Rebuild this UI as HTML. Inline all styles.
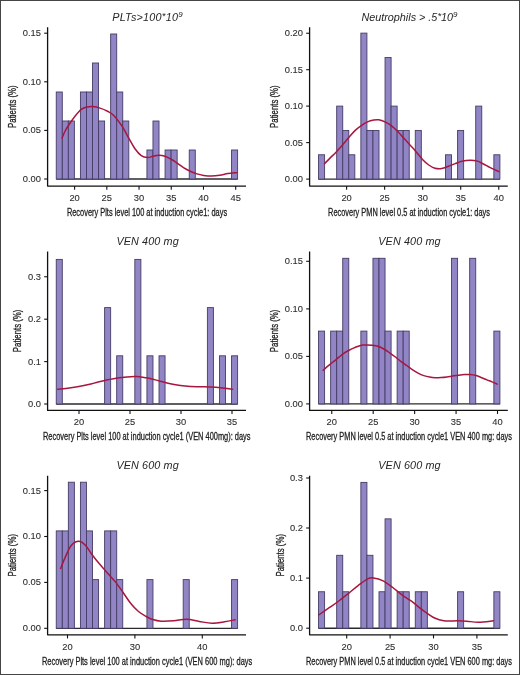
<!DOCTYPE html>
<html><head><meta charset="utf-8"><style>
html,body{margin:0;padding:0;background:#fff;}
body{width:520px;height:675px;overflow:hidden;}
svg{display:block;will-change:transform;}
text{font-family:"Liberation Sans",sans-serif;}
.tk{font-size:9.35px;fill:#2e2e2e;stroke:#2e2e2e;stroke-width:0.1px;}
.xt{font-size:10.8px;fill:#1e1e1e;stroke:#1e1e1e;stroke-width:0.3px;}
.yt{font-size:10.1px;fill:#1e1e1e;stroke:#1e1e1e;stroke-width:0.3px;}
.ti{font-size:10.8px;font-style:italic;fill:#262626;letter-spacing:0.12px;}
</style></head><body>
<svg width="520" height="675" viewBox="0 0 520 675">
<rect x="0" y="0" width="520" height="675" fill="#fff"/>
<g><line x1="56.25" y1="179.00" x2="237.60" y2="179.00" stroke="#2a2a30" stroke-width="1.35"/><rect x="56.25" y="92.00" width="6.045" height="87.00" fill="#9285c6" stroke="#453d65" stroke-width="0.9"/><rect x="62.30" y="121.00" width="6.045" height="58.00" fill="#9285c6" stroke="#453d65" stroke-width="0.9"/><rect x="68.34" y="121.00" width="6.045" height="58.00" fill="#9285c6" stroke="#453d65" stroke-width="0.9"/><rect x="80.43" y="92.00" width="6.045" height="87.00" fill="#9285c6" stroke="#453d65" stroke-width="0.9"/><rect x="86.47" y="92.00" width="6.045" height="87.00" fill="#9285c6" stroke="#453d65" stroke-width="0.9"/><rect x="92.52" y="63.00" width="6.045" height="116.00" fill="#9285c6" stroke="#453d65" stroke-width="0.9"/><rect x="98.56" y="121.00" width="6.045" height="58.00" fill="#9285c6" stroke="#453d65" stroke-width="0.9"/><rect x="110.66" y="34.00" width="6.045" height="145.00" fill="#9285c6" stroke="#453d65" stroke-width="0.9"/><rect x="116.70" y="92.00" width="6.045" height="87.00" fill="#9285c6" stroke="#453d65" stroke-width="0.9"/><rect x="122.75" y="121.00" width="6.045" height="58.00" fill="#9285c6" stroke="#453d65" stroke-width="0.9"/><rect x="146.93" y="150.00" width="6.045" height="29.00" fill="#9285c6" stroke="#453d65" stroke-width="0.9"/><rect x="152.97" y="121.00" width="6.045" height="58.00" fill="#9285c6" stroke="#453d65" stroke-width="0.9"/><rect x="165.06" y="150.00" width="6.045" height="29.00" fill="#9285c6" stroke="#453d65" stroke-width="0.9"/><rect x="171.11" y="150.00" width="6.045" height="29.00" fill="#9285c6" stroke="#453d65" stroke-width="0.9"/><rect x="189.24" y="150.00" width="6.045" height="29.00" fill="#9285c6" stroke="#453d65" stroke-width="0.9"/><rect x="231.56" y="150.00" width="6.045" height="29.00" fill="#9285c6" stroke="#453d65" stroke-width="0.9"/><path d="M62.10,138.10 C62.58,136.96 63.89,133.43 65.00,131.25 C66.11,129.07 67.08,127.50 68.75,125.00 C70.42,122.50 72.92,118.85 75.00,116.25 C77.08,113.65 79.17,110.96 81.25,109.40 C83.33,107.84 85.62,107.37 87.50,106.90 C89.38,106.43 90.42,106.40 92.50,106.60 C94.58,106.80 97.50,107.32 100.00,108.10 C102.50,108.88 105.21,110.02 107.50,111.25 C109.79,112.48 111.25,112.89 113.75,115.50 C116.25,118.11 120.00,123.13 122.50,126.90 C125.00,130.67 126.67,134.46 128.75,138.10 C130.83,141.74 132.92,145.83 135.00,148.75 C137.08,151.67 139.17,154.14 141.25,155.60 C143.33,157.06 145.42,157.43 147.50,157.50 C149.58,157.57 151.88,156.38 153.75,156.00 C155.62,155.62 156.88,155.15 158.75,155.20 C160.62,155.25 162.71,155.50 165.00,156.30 C167.29,157.10 170.55,158.90 172.50,160.00 C174.45,161.10 174.87,161.63 176.70,162.90 C178.53,164.17 181.25,166.22 183.50,167.60 C185.75,168.98 187.97,170.15 190.20,171.20 C192.43,172.25 194.67,173.20 196.90,173.90 C199.13,174.60 201.13,175.03 203.60,175.40 C206.07,175.77 209.00,176.12 211.70,176.10 C214.40,176.08 217.10,175.72 219.80,175.30 C222.50,174.88 225.07,174.03 227.90,173.60 C230.73,173.17 235.32,172.85 236.80,172.70" fill="none" stroke="#a8163f" stroke-width="1.5" stroke-linecap="round" stroke-linejoin="round"/><path d="M47.60,27.20 V186.10 H246.00" fill="none" stroke="#111" stroke-width="1.3" stroke-linejoin="round"/><line x1="44.20" y1="179.00" x2="47.60" y2="179.00" stroke="#111" stroke-width="1.1"/><text x="41.00" y="181.90" text-anchor="end" class="tk">0.00</text><line x1="44.20" y1="130.40" x2="47.60" y2="130.40" stroke="#111" stroke-width="1.1"/><text x="41.00" y="133.30" text-anchor="end" class="tk">0.05</text><line x1="44.20" y1="81.80" x2="47.60" y2="81.80" stroke="#111" stroke-width="1.1"/><text x="41.00" y="84.70" text-anchor="end" class="tk">0.10</text><line x1="44.20" y1="33.20" x2="47.60" y2="33.20" stroke="#111" stroke-width="1.1"/><text x="41.00" y="36.10" text-anchor="end" class="tk">0.15</text><line x1="74.60" y1="186.10" x2="74.60" y2="189.70" stroke="#111" stroke-width="1.1"/><text x="74.60" y="201.10" text-anchor="middle" class="tk">20</text><line x1="106.82" y1="186.10" x2="106.82" y2="189.70" stroke="#111" stroke-width="1.1"/><text x="106.82" y="201.10" text-anchor="middle" class="tk">25</text><line x1="139.04" y1="186.10" x2="139.04" y2="189.70" stroke="#111" stroke-width="1.1"/><text x="139.04" y="201.10" text-anchor="middle" class="tk">30</text><line x1="171.26" y1="186.10" x2="171.26" y2="189.70" stroke="#111" stroke-width="1.1"/><text x="171.26" y="201.10" text-anchor="middle" class="tk">35</text><line x1="203.48" y1="186.10" x2="203.48" y2="189.70" stroke="#111" stroke-width="1.1"/><text x="203.48" y="201.10" text-anchor="middle" class="tk">40</text><line x1="235.70" y1="186.10" x2="235.70" y2="189.70" stroke="#111" stroke-width="1.1"/><text x="235.70" y="201.10" text-anchor="middle" class="tk">45</text><text x="66.90" y="215.70" textLength="160.20" lengthAdjust="spacingAndGlyphs" class="xt">Recovery Plts level 100 at induction cycle1: days</text><text transform="translate(16.00,106.65) rotate(-90)" x="0" y="0" text-anchor="middle" textLength="42.5" lengthAdjust="spacingAndGlyphs" class="yt">Patients (%)</text><text x="147.60" y="20.50" text-anchor="middle" class="ti" style="letter-spacing:0.24px">PLTs>100<tspan font-size="9.5" dy="-1.8">*</tspan><tspan dy="1.8">10</tspan><tspan font-size="8" dy="-3.6">9</tspan></text></g>
<g><line x1="318.55" y1="179.10" x2="499.90" y2="179.10" stroke="#2a2a30" stroke-width="1.35"/><rect x="318.55" y="154.77" width="6.045" height="24.33" fill="#9285c6" stroke="#453d65" stroke-width="0.9"/><rect x="336.69" y="106.11" width="6.045" height="72.99" fill="#9285c6" stroke="#453d65" stroke-width="0.9"/><rect x="342.73" y="130.44" width="6.045" height="48.66" fill="#9285c6" stroke="#453d65" stroke-width="0.9"/><rect x="348.78" y="154.77" width="6.045" height="24.33" fill="#9285c6" stroke="#453d65" stroke-width="0.9"/><rect x="360.87" y="33.12" width="6.045" height="145.98" fill="#9285c6" stroke="#453d65" stroke-width="0.9"/><rect x="366.91" y="130.44" width="6.045" height="48.66" fill="#9285c6" stroke="#453d65" stroke-width="0.9"/><rect x="372.96" y="130.44" width="6.045" height="48.66" fill="#9285c6" stroke="#453d65" stroke-width="0.9"/><rect x="385.05" y="57.45" width="6.045" height="121.65" fill="#9285c6" stroke="#453d65" stroke-width="0.9"/><rect x="391.09" y="106.11" width="6.045" height="72.99" fill="#9285c6" stroke="#453d65" stroke-width="0.9"/><rect x="397.13" y="130.44" width="6.045" height="48.66" fill="#9285c6" stroke="#453d65" stroke-width="0.9"/><rect x="403.18" y="130.44" width="6.045" height="48.66" fill="#9285c6" stroke="#453d65" stroke-width="0.9"/><rect x="415.27" y="130.44" width="6.045" height="48.66" fill="#9285c6" stroke="#453d65" stroke-width="0.9"/><rect x="445.50" y="154.77" width="6.045" height="24.33" fill="#9285c6" stroke="#453d65" stroke-width="0.9"/><rect x="457.59" y="130.44" width="6.045" height="48.66" fill="#9285c6" stroke="#453d65" stroke-width="0.9"/><rect x="475.72" y="106.11" width="6.045" height="72.99" fill="#9285c6" stroke="#453d65" stroke-width="0.9"/><rect x="493.86" y="154.77" width="6.045" height="24.33" fill="#9285c6" stroke="#453d65" stroke-width="0.9"/><path d="M324.40,163.75 C325.33,162.81 328.02,160.07 330.00,158.10 C331.98,156.12 334.17,154.08 336.25,151.90 C338.33,149.72 340.42,147.40 342.50,145.00 C344.58,142.60 346.67,139.90 348.75,137.50 C350.83,135.10 352.92,132.58 355.00,130.60 C357.08,128.62 359.17,127.05 361.25,125.60 C363.33,124.15 365.42,122.83 367.50,121.90 C369.58,120.97 371.88,120.36 373.75,120.00 C375.62,119.64 376.88,119.43 378.75,119.75 C380.62,120.07 382.92,120.93 385.00,121.90 C387.08,122.88 389.17,124.04 391.25,125.60 C393.33,127.16 395.42,129.17 397.50,131.25 C399.58,133.33 401.67,135.81 403.75,138.10 C405.83,140.39 407.92,142.70 410.00,145.00 C412.08,147.30 414.17,149.50 416.25,151.90 C418.33,154.30 420.42,157.22 422.50,159.40 C424.58,161.58 426.67,163.53 428.75,165.00 C430.83,166.47 432.84,167.62 435.00,168.20 C437.16,168.78 439.45,168.83 441.70,168.50 C443.95,168.17 446.25,167.02 448.50,166.20 C450.75,165.38 452.97,164.42 455.20,163.60 C457.43,162.78 459.43,161.87 461.90,161.30 C464.37,160.73 467.53,160.27 470.00,160.20 C472.47,160.13 474.45,160.27 476.70,160.90 C478.95,161.53 481.25,162.88 483.50,164.00 C485.75,165.12 487.63,166.33 490.20,167.60 C492.77,168.87 497.45,170.93 498.90,171.60" fill="none" stroke="#a8163f" stroke-width="1.5" stroke-linecap="round" stroke-linejoin="round"/><path d="M309.60,27.20 V186.10 H507.80" fill="none" stroke="#111" stroke-width="1.3" stroke-linejoin="round"/><line x1="306.20" y1="179.10" x2="309.60" y2="179.10" stroke="#111" stroke-width="1.1"/><text x="302.90" y="182.00" text-anchor="end" class="tk">0.00</text><line x1="306.20" y1="142.60" x2="309.60" y2="142.60" stroke="#111" stroke-width="1.1"/><text x="302.90" y="145.50" text-anchor="end" class="tk">0.05</text><line x1="306.20" y1="106.10" x2="309.60" y2="106.10" stroke="#111" stroke-width="1.1"/><text x="302.90" y="109.00" text-anchor="end" class="tk">0.10</text><line x1="306.20" y1="69.70" x2="309.60" y2="69.70" stroke="#111" stroke-width="1.1"/><text x="302.90" y="72.60" text-anchor="end" class="tk">0.15</text><line x1="306.20" y1="33.25" x2="309.60" y2="33.25" stroke="#111" stroke-width="1.1"/><text x="302.90" y="36.15" text-anchor="end" class="tk">0.20</text><line x1="346.60" y1="186.10" x2="346.60" y2="189.70" stroke="#111" stroke-width="1.1"/><text x="346.60" y="201.10" text-anchor="middle" class="tk">20</text><line x1="384.64" y1="186.10" x2="384.64" y2="189.70" stroke="#111" stroke-width="1.1"/><text x="384.64" y="201.10" text-anchor="middle" class="tk">25</text><line x1="422.68" y1="186.10" x2="422.68" y2="189.70" stroke="#111" stroke-width="1.1"/><text x="422.68" y="201.10" text-anchor="middle" class="tk">30</text><line x1="460.72" y1="186.10" x2="460.72" y2="189.70" stroke="#111" stroke-width="1.1"/><text x="460.72" y="201.10" text-anchor="middle" class="tk">35</text><line x1="498.76" y1="186.10" x2="498.76" y2="189.70" stroke="#111" stroke-width="1.1"/><text x="498.76" y="201.10" text-anchor="middle" class="tk">40</text><text x="328.10" y="215.70" textLength="161.90" lengthAdjust="spacingAndGlyphs" class="xt">Recovery PMN level 0.5 at induction cycle1: days</text><text transform="translate(278.40,106.65) rotate(-90)" x="0" y="0" text-anchor="middle" textLength="42.5" lengthAdjust="spacingAndGlyphs" class="yt">Patients (%)</text><text x="409.50" y="20.50" text-anchor="middle" class="ti" style="letter-spacing:0.0px">Neutrophils > .5<tspan font-size="9.5" dy="-1.8">*</tspan><tspan dy="1.8">10</tspan><tspan font-size="8" dy="-3.6">9</tspan></text></g>
<g><line x1="56.25" y1="404.00" x2="237.60" y2="404.00" stroke="#2a2a30" stroke-width="1.35"/><rect x="56.25" y="259.40" width="6.045" height="144.60" fill="#9285c6" stroke="#453d65" stroke-width="0.9"/><rect x="104.61" y="307.60" width="6.045" height="96.40" fill="#9285c6" stroke="#453d65" stroke-width="0.9"/><rect x="116.70" y="355.80" width="6.045" height="48.20" fill="#9285c6" stroke="#453d65" stroke-width="0.9"/><rect x="134.83" y="259.40" width="6.045" height="144.60" fill="#9285c6" stroke="#453d65" stroke-width="0.9"/><rect x="146.93" y="355.80" width="6.045" height="48.20" fill="#9285c6" stroke="#453d65" stroke-width="0.9"/><rect x="159.01" y="355.80" width="6.045" height="48.20" fill="#9285c6" stroke="#453d65" stroke-width="0.9"/><rect x="207.38" y="307.60" width="6.045" height="96.40" fill="#9285c6" stroke="#453d65" stroke-width="0.9"/><rect x="219.47" y="355.80" width="6.045" height="48.20" fill="#9285c6" stroke="#453d65" stroke-width="0.9"/><rect x="231.56" y="355.80" width="6.045" height="48.20" fill="#9285c6" stroke="#453d65" stroke-width="0.9"/><path d="M57.70,389.20 C59.62,388.98 65.68,388.35 69.20,387.90 C72.72,387.45 75.58,387.05 78.80,386.50 C82.02,385.95 85.28,385.33 88.50,384.60 C91.72,383.87 94.90,382.90 98.10,382.10 C101.30,381.30 104.50,380.50 107.70,379.80 C110.90,379.10 114.10,378.38 117.30,377.90 C120.50,377.42 123.70,377.12 126.90,376.90 C130.10,376.68 133.28,376.45 136.50,376.60 C139.72,376.75 143.93,377.50 146.20,377.80 C148.47,378.10 147.77,377.83 150.10,378.40 C152.43,378.97 156.83,380.30 160.20,381.20 C163.57,382.10 166.93,383.07 170.30,383.80 C173.67,384.53 177.03,385.15 180.40,385.60 C183.77,386.05 187.13,386.32 190.50,386.50 C193.87,386.68 197.23,386.63 200.60,386.70 C203.97,386.77 207.33,386.73 210.70,386.90 C214.07,387.07 217.17,387.30 220.80,387.70 C224.43,388.10 230.55,389.03 232.50,389.30" fill="none" stroke="#a8163f" stroke-width="1.5" stroke-linecap="round" stroke-linejoin="round"/><path d="M47.60,251.40 V410.40 H246.00" fill="none" stroke="#111" stroke-width="1.3" stroke-linejoin="round"/><line x1="44.20" y1="404.00" x2="47.60" y2="404.00" stroke="#111" stroke-width="1.1"/><text x="41.00" y="406.90" text-anchor="end" class="tk">0.0</text><line x1="44.20" y1="361.60" x2="47.60" y2="361.60" stroke="#111" stroke-width="1.1"/><text x="41.00" y="364.50" text-anchor="end" class="tk">0.1</text><line x1="44.20" y1="319.20" x2="47.60" y2="319.20" stroke="#111" stroke-width="1.1"/><text x="41.00" y="322.10" text-anchor="end" class="tk">0.2</text><line x1="44.20" y1="276.75" x2="47.60" y2="276.75" stroke="#111" stroke-width="1.1"/><text x="41.00" y="279.65" text-anchor="end" class="tk">0.3</text><line x1="79.00" y1="410.40" x2="79.00" y2="414.00" stroke="#111" stroke-width="1.1"/><text x="79.00" y="425.40" text-anchor="middle" class="tk">20</text><line x1="130.00" y1="410.40" x2="130.00" y2="414.00" stroke="#111" stroke-width="1.1"/><text x="130.00" y="425.40" text-anchor="middle" class="tk">25</text><line x1="181.00" y1="410.40" x2="181.00" y2="414.00" stroke="#111" stroke-width="1.1"/><text x="181.00" y="425.40" text-anchor="middle" class="tk">30</text><line x1="232.00" y1="410.40" x2="232.00" y2="414.00" stroke="#111" stroke-width="1.1"/><text x="232.00" y="425.40" text-anchor="middle" class="tk">35</text><text x="43.00" y="440.20" textLength="207.50" lengthAdjust="spacingAndGlyphs" class="xt">Recovery Plts level 100 at induction cycle1 (VEN 400mg): days</text><text transform="translate(21.40,330.90) rotate(-90)" x="0" y="0" text-anchor="middle" textLength="42.5" lengthAdjust="spacingAndGlyphs" class="yt">Patients (%)</text><text x="147.60" y="244.70" text-anchor="middle" class="ti">VEN 400 mg</text></g>
<g><line x1="318.55" y1="403.90" x2="499.90" y2="403.90" stroke="#2a2a30" stroke-width="1.35"/><rect x="318.55" y="331.10" width="6.045" height="72.80" fill="#9285c6" stroke="#453d65" stroke-width="0.9"/><rect x="330.64" y="331.10" width="6.045" height="72.80" fill="#9285c6" stroke="#453d65" stroke-width="0.9"/><rect x="336.69" y="331.10" width="6.045" height="72.80" fill="#9285c6" stroke="#453d65" stroke-width="0.9"/><rect x="342.73" y="258.30" width="6.045" height="145.60" fill="#9285c6" stroke="#453d65" stroke-width="0.9"/><rect x="360.87" y="331.10" width="6.045" height="72.80" fill="#9285c6" stroke="#453d65" stroke-width="0.9"/><rect x="372.96" y="258.30" width="6.045" height="145.60" fill="#9285c6" stroke="#453d65" stroke-width="0.9"/><rect x="379.00" y="258.30" width="6.045" height="145.60" fill="#9285c6" stroke="#453d65" stroke-width="0.9"/><rect x="385.05" y="331.10" width="6.045" height="72.80" fill="#9285c6" stroke="#453d65" stroke-width="0.9"/><rect x="397.13" y="331.10" width="6.045" height="72.80" fill="#9285c6" stroke="#453d65" stroke-width="0.9"/><rect x="403.18" y="331.10" width="6.045" height="72.80" fill="#9285c6" stroke="#453d65" stroke-width="0.9"/><rect x="451.54" y="258.30" width="6.045" height="145.60" fill="#9285c6" stroke="#453d65" stroke-width="0.9"/><rect x="469.68" y="258.30" width="6.045" height="145.60" fill="#9285c6" stroke="#453d65" stroke-width="0.9"/><rect x="493.86" y="331.10" width="6.045" height="72.80" fill="#9285c6" stroke="#453d65" stroke-width="0.9"/><path d="M323.20,370.20 C324.23,369.32 327.57,366.42 329.40,364.90 C331.23,363.38 332.60,362.38 334.20,361.10 C335.80,359.82 337.40,358.48 339.00,357.20 C340.60,355.92 342.18,354.52 343.80,353.40 C345.42,352.28 347.08,351.38 348.70,350.50 C350.32,349.62 351.90,348.82 353.50,348.10 C355.10,347.38 356.80,346.70 358.30,346.20 C359.80,345.70 361.13,345.32 362.50,345.10 C363.87,344.88 364.87,344.88 366.50,344.90 C368.13,344.92 370.37,344.97 372.30,345.20 C374.23,345.43 376.18,345.67 378.10,346.30 C380.02,346.93 381.88,347.92 383.80,349.00 C385.72,350.08 387.67,351.47 389.60,352.80 C391.53,354.13 393.47,355.52 395.40,357.00 C397.33,358.48 399.28,360.25 401.20,361.70 C403.12,363.15 405.05,364.38 406.90,365.70 C408.75,367.02 410.43,368.37 412.30,369.60 C414.17,370.83 416.18,372.10 418.10,373.10 C420.02,374.10 421.88,374.93 423.80,375.60 C425.72,376.27 427.67,376.75 429.60,377.10 C431.53,377.45 433.47,377.63 435.40,377.70 C437.33,377.77 439.28,377.63 441.20,377.50 C443.12,377.37 444.98,377.15 446.90,376.90 C448.82,376.65 450.77,376.28 452.70,376.00 C454.63,375.72 456.53,375.43 458.50,375.20 C460.47,374.97 462.57,374.72 464.50,374.60 C466.43,374.48 468.18,374.35 470.10,374.50 C472.02,374.65 474.07,374.97 476.00,375.50 C477.93,376.03 479.87,376.97 481.70,377.70 C483.53,378.43 485.28,379.20 487.00,379.90 C488.72,380.60 490.30,381.20 492.00,381.90 C493.70,382.60 496.33,383.73 497.20,384.10" fill="none" stroke="#a8163f" stroke-width="1.5" stroke-linecap="round" stroke-linejoin="round"/><path d="M309.60,251.40 V410.40 H507.80" fill="none" stroke="#111" stroke-width="1.3" stroke-linejoin="round"/><line x1="306.20" y1="403.90" x2="309.60" y2="403.90" stroke="#111" stroke-width="1.1"/><text x="302.90" y="406.80" text-anchor="end" class="tk">0.00</text><line x1="306.20" y1="356.40" x2="309.60" y2="356.40" stroke="#111" stroke-width="1.1"/><text x="302.90" y="359.30" text-anchor="end" class="tk">0.05</text><line x1="306.20" y1="308.90" x2="309.60" y2="308.90" stroke="#111" stroke-width="1.1"/><text x="302.90" y="311.80" text-anchor="end" class="tk">0.10</text><line x1="306.20" y1="261.30" x2="309.60" y2="261.30" stroke="#111" stroke-width="1.1"/><text x="302.90" y="264.20" text-anchor="end" class="tk">0.15</text><line x1="331.75" y1="410.40" x2="331.75" y2="414.00" stroke="#111" stroke-width="1.1"/><text x="331.75" y="425.40" text-anchor="middle" class="tk">20</text><line x1="373.19" y1="410.40" x2="373.19" y2="414.00" stroke="#111" stroke-width="1.1"/><text x="373.19" y="425.40" text-anchor="middle" class="tk">25</text><line x1="414.63" y1="410.40" x2="414.63" y2="414.00" stroke="#111" stroke-width="1.1"/><text x="414.63" y="425.40" text-anchor="middle" class="tk">30</text><line x1="456.07" y1="410.40" x2="456.07" y2="414.00" stroke="#111" stroke-width="1.1"/><text x="456.07" y="425.40" text-anchor="middle" class="tk">35</text><line x1="497.51" y1="410.40" x2="497.51" y2="414.00" stroke="#111" stroke-width="1.1"/><text x="497.51" y="425.40" text-anchor="middle" class="tk">40</text><text x="306.00" y="440.20" textLength="205.90" lengthAdjust="spacingAndGlyphs" class="xt">Recovery PMN level 0.5 at induction cycle1 VEN 400 mg: days</text><text transform="translate(278.40,330.90) rotate(-90)" x="0" y="0" text-anchor="middle" textLength="42.5" lengthAdjust="spacingAndGlyphs" class="yt">Patients (%)</text><text x="409.50" y="244.70" text-anchor="middle" class="ti">VEN 400 mg</text></g>
<g><line x1="56.25" y1="628.30" x2="237.60" y2="628.30" stroke="#2a2a30" stroke-width="1.35"/><rect x="56.25" y="530.90" width="6.045" height="97.40" fill="#9285c6" stroke="#453d65" stroke-width="0.9"/><rect x="62.30" y="530.90" width="6.045" height="97.40" fill="#9285c6" stroke="#453d65" stroke-width="0.9"/><rect x="68.34" y="482.20" width="6.045" height="146.10" fill="#9285c6" stroke="#453d65" stroke-width="0.9"/><rect x="80.43" y="482.20" width="6.045" height="146.10" fill="#9285c6" stroke="#453d65" stroke-width="0.9"/><rect x="86.47" y="530.90" width="6.045" height="97.40" fill="#9285c6" stroke="#453d65" stroke-width="0.9"/><rect x="92.52" y="579.60" width="6.045" height="48.70" fill="#9285c6" stroke="#453d65" stroke-width="0.9"/><rect x="104.61" y="530.90" width="6.045" height="97.40" fill="#9285c6" stroke="#453d65" stroke-width="0.9"/><rect x="110.66" y="530.90" width="6.045" height="97.40" fill="#9285c6" stroke="#453d65" stroke-width="0.9"/><rect x="116.70" y="579.60" width="6.045" height="48.70" fill="#9285c6" stroke="#453d65" stroke-width="0.9"/><rect x="146.93" y="579.60" width="6.045" height="48.70" fill="#9285c6" stroke="#453d65" stroke-width="0.9"/><rect x="183.19" y="579.60" width="6.045" height="48.70" fill="#9285c6" stroke="#453d65" stroke-width="0.9"/><rect x="231.56" y="579.60" width="6.045" height="48.70" fill="#9285c6" stroke="#453d65" stroke-width="0.9"/><path d="M60.60,568.50 C61.40,566.57 63.63,560.75 65.40,556.90 C67.17,553.05 68.97,548.02 71.20,545.40 C73.43,542.78 76.40,541.20 78.80,541.20 C81.20,541.20 83.35,543.10 85.60,545.40 C87.85,547.70 89.90,551.80 92.30,555.00 C94.70,558.20 97.43,561.55 100.00,564.60 C102.57,567.65 105.13,570.42 107.70,573.30 C110.27,576.18 112.83,578.70 115.40,581.90 C117.97,585.10 120.53,588.90 123.10,592.50 C125.67,596.10 128.23,600.33 130.80,603.50 C133.37,606.67 135.93,609.33 138.50,611.50 C141.07,613.67 143.95,615.22 146.20,616.50 C148.45,617.78 149.50,618.42 152.00,619.20 C154.50,619.98 157.57,620.93 161.20,621.20 C164.83,621.47 169.58,621.12 173.80,620.80 C178.02,620.48 182.27,619.20 186.50,619.30 C190.73,619.40 194.97,620.73 199.20,621.40 C203.43,622.07 207.67,623.23 211.90,623.30 C216.13,623.37 220.72,622.40 224.60,621.80 C228.48,621.20 233.43,620.05 235.20,619.70" fill="none" stroke="#a8163f" stroke-width="1.5" stroke-linecap="round" stroke-linejoin="round"/><path d="M47.60,475.70 V634.80 H246.00" fill="none" stroke="#111" stroke-width="1.3" stroke-linejoin="round"/><line x1="44.20" y1="628.30" x2="47.60" y2="628.30" stroke="#111" stroke-width="1.1"/><text x="41.00" y="631.20" text-anchor="end" class="tk">0.00</text><line x1="44.20" y1="582.40" x2="47.60" y2="582.40" stroke="#111" stroke-width="1.1"/><text x="41.00" y="585.30" text-anchor="end" class="tk">0.05</text><line x1="44.20" y1="536.50" x2="47.60" y2="536.50" stroke="#111" stroke-width="1.1"/><text x="41.00" y="539.40" text-anchor="end" class="tk">0.10</text><line x1="44.20" y1="490.60" x2="47.60" y2="490.60" stroke="#111" stroke-width="1.1"/><text x="41.00" y="493.50" text-anchor="end" class="tk">0.15</text><line x1="67.50" y1="634.80" x2="67.50" y2="638.40" stroke="#111" stroke-width="1.1"/><text x="67.50" y="649.80" text-anchor="middle" class="tk">20</text><line x1="134.90" y1="634.80" x2="134.90" y2="638.40" stroke="#111" stroke-width="1.1"/><text x="134.90" y="649.80" text-anchor="middle" class="tk">30</text><line x1="202.30" y1="634.80" x2="202.30" y2="638.40" stroke="#111" stroke-width="1.1"/><text x="202.30" y="649.80" text-anchor="middle" class="tk">40</text><text x="41.90" y="664.80" textLength="210.35" lengthAdjust="spacingAndGlyphs" class="xt">Recovery Plts level 100 at induction cycle1 (VEN 600 mg): days</text><text transform="translate(16.00,555.25) rotate(-90)" x="0" y="0" text-anchor="middle" textLength="42.5" lengthAdjust="spacingAndGlyphs" class="yt">Patients (%)</text><text x="147.60" y="469.30" text-anchor="middle" class="ti">VEN 600 mg</text></g>
<g><line x1="318.55" y1="628.20" x2="499.90" y2="628.20" stroke="#2a2a30" stroke-width="1.35"/><rect x="318.55" y="591.75" width="6.045" height="36.45" fill="#9285c6" stroke="#453d65" stroke-width="0.9"/><rect x="336.69" y="555.30" width="6.045" height="72.90" fill="#9285c6" stroke="#453d65" stroke-width="0.9"/><rect x="342.73" y="591.75" width="6.045" height="36.45" fill="#9285c6" stroke="#453d65" stroke-width="0.9"/><rect x="360.87" y="482.40" width="6.045" height="145.80" fill="#9285c6" stroke="#453d65" stroke-width="0.9"/><rect x="366.91" y="555.30" width="6.045" height="72.90" fill="#9285c6" stroke="#453d65" stroke-width="0.9"/><rect x="379.00" y="591.75" width="6.045" height="36.45" fill="#9285c6" stroke="#453d65" stroke-width="0.9"/><rect x="385.05" y="518.85" width="6.045" height="109.35" fill="#9285c6" stroke="#453d65" stroke-width="0.9"/><rect x="397.13" y="591.75" width="6.045" height="36.45" fill="#9285c6" stroke="#453d65" stroke-width="0.9"/><rect x="403.18" y="591.75" width="6.045" height="36.45" fill="#9285c6" stroke="#453d65" stroke-width="0.9"/><rect x="415.27" y="591.75" width="6.045" height="36.45" fill="#9285c6" stroke="#453d65" stroke-width="0.9"/><rect x="421.31" y="591.75" width="6.045" height="36.45" fill="#9285c6" stroke="#453d65" stroke-width="0.9"/><rect x="457.59" y="591.75" width="6.045" height="36.45" fill="#9285c6" stroke="#453d65" stroke-width="0.9"/><rect x="493.86" y="591.75" width="6.045" height="36.45" fill="#9285c6" stroke="#453d65" stroke-width="0.9"/><path d="M318.70,615.00 C320.45,613.78 325.85,610.03 329.20,607.70 C332.55,605.37 335.58,603.40 338.80,601.00 C342.02,598.60 345.28,595.87 348.50,593.30 C351.72,590.73 354.90,588.02 358.10,585.60 C361.30,583.18 365.13,580.08 367.70,578.80 C370.27,577.52 370.93,577.57 373.50,577.90 C376.07,578.23 379.90,579.20 383.10,580.80 C386.30,582.40 389.50,585.10 392.70,587.50 C395.90,589.90 399.17,592.92 402.30,595.20 C405.43,597.48 408.03,598.67 411.50,601.20 C414.97,603.73 419.25,607.60 423.10,610.40 C426.95,613.20 431.15,616.27 434.60,618.00 C438.05,619.73 439.95,620.33 443.80,620.80 C447.65,621.27 453.85,620.73 457.70,620.80 C461.55,620.87 463.43,620.97 466.90,621.20 C470.37,621.43 474.07,622.27 478.50,622.20 C482.93,622.13 491.00,621.03 493.50,620.80" fill="none" stroke="#a8163f" stroke-width="1.5" stroke-linecap="round" stroke-linejoin="round"/><path d="M309.60,475.70 V634.80 H507.80" fill="none" stroke="#111" stroke-width="1.3" stroke-linejoin="round"/><line x1="306.20" y1="628.20" x2="309.60" y2="628.20" stroke="#111" stroke-width="1.1"/><text x="302.90" y="631.10" text-anchor="end" class="tk">0.0</text><line x1="306.20" y1="578.10" x2="309.60" y2="578.10" stroke="#111" stroke-width="1.1"/><text x="302.90" y="581.00" text-anchor="end" class="tk">0.1</text><line x1="306.20" y1="528.00" x2="309.60" y2="528.00" stroke="#111" stroke-width="1.1"/><text x="302.90" y="530.90" text-anchor="end" class="tk">0.2</text><line x1="306.20" y1="478.00" x2="309.60" y2="478.00" stroke="#111" stroke-width="1.1"/><text x="302.90" y="480.90" text-anchor="end" class="tk">0.3</text><line x1="346.70" y1="634.80" x2="346.70" y2="638.40" stroke="#111" stroke-width="1.1"/><text x="346.70" y="649.80" text-anchor="middle" class="tk">20</text><line x1="390.10" y1="634.80" x2="390.10" y2="638.40" stroke="#111" stroke-width="1.1"/><text x="390.10" y="649.80" text-anchor="middle" class="tk">25</text><line x1="433.50" y1="634.80" x2="433.50" y2="638.40" stroke="#111" stroke-width="1.1"/><text x="433.50" y="649.80" text-anchor="middle" class="tk">30</text><line x1="476.90" y1="634.80" x2="476.90" y2="638.40" stroke="#111" stroke-width="1.1"/><text x="476.90" y="649.80" text-anchor="middle" class="tk">35</text><text x="306.00" y="664.80" textLength="205.90" lengthAdjust="spacingAndGlyphs" class="xt">Recovery PMN level 0.5 at induction cycle1 VEN 600 mg: days</text><text transform="translate(283.80,555.25) rotate(-90)" x="0" y="0" text-anchor="middle" textLength="42.5" lengthAdjust="spacingAndGlyphs" class="yt">Patients (%)</text><text x="409.50" y="469.30" text-anchor="middle" class="ti">VEN 600 mg</text></g>
<rect x="0.5" y="0.5" width="519" height="674" fill="none" stroke="#454545" stroke-width="1"/>
</svg>
</body></html>
